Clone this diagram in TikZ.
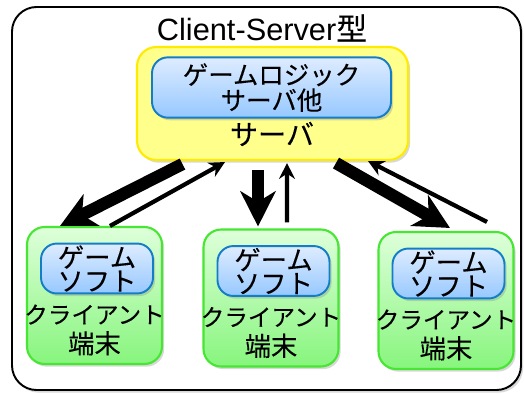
\documentclass[tikz,border=0pt]{standalone}
\usepackage{fontspec}
\setmainfont{Liberation Sans}
\newfontfamily\jp[FakeBold=0.15]{Noto Sans CJK JP}
\usetikzlibrary{arrows.meta, calc, shadows}

\definecolor{srvfill}{RGB}{255,255,140}
\definecolor{srvline}{RGB}{255,235,0}
\definecolor{sfttop}{RGB}{222,236,255}
\definecolor{sftbot}{RGB}{150,200,255}
\definecolor{sftline}{RGB}{20,125,200}
\definecolor{clitop}{RGB}{222,255,218}
\definecolor{clibot}{RGB}{135,245,125}
\definecolor{cliline}{RGB}{70,230,50}

\begin{document}
\begin{tikzpicture}[x=0.02cm, y=-0.02cm,
    shad/.style={drop shadow={shadow xshift=1.2pt, shadow yshift=-1.5pt, opacity=0.3}},
    srvbox/.style={rounded corners=11pt, draw=srvline, line width=1.2pt, fill=srvfill, shad},
    sftbox/.style={rounded corners=9pt, draw=sftline, line width=1.1pt, top color=sfttop, bottom color=sftbot, shad, align=center},
    clibox/.style={rounded corners=10pt, draw=cliline, line width=1.2pt, top color=clitop, bottom color=clibot, shad, minimum width=2.7cm, minimum height=2.74cm},
    big/.style={line width=7pt, -{Stealth[length=20pt, width=20pt, inset=6pt]}},
    small/.style={line width=2.4pt, -{Stealth[length=9pt, width=9pt, inset=3pt]}}]
    \useasboundingbox (0,0) rectangle (524,393);
    \draw [rounded corners=14pt, line width=1.1pt, fill=white, shad] (12,7) rectangle (521,390);
    \node (title) at (262,28) [font=\fontsize{17.5}{20}\selectfont] {Client-Server{\jp 型}};

    \node (srv) at (272.5,103.5) [srvbox, minimum width=5.42cm, minimum height=2.26cm] {};
    \node (logic) at (271.5,87.5) [sftbox, minimum width=4.78cm, minimum height=1.18cm,
        font=\fontsize{14.5}{14.5}\selectfont\jp] {ゲームロジック\\サーバ他};
    \node (srvname) at (272,134) [font=\fontsize{16}{16}\selectfont\jp] {サーバ};

    \foreach \x/\y/\n in {94.5/295.5/1, 271/298/2, 446/300.5/3} {
        \node (cl\n) at (\x,\y) [clibox] {};
        \node (sft\n) at (\x+2.5,\y-27) [sftbox, minimum width=2.24cm, minimum height=0.98cm,
            inner sep=1pt, font=\fontsize{15}{13.5}\selectfont\jp] {ゲーム\\ソフト};
        \node (lbl\n) at (\x,\y+34.5) [align=center, inner sep=0pt, font=\fontsize{13.4}{17}\selectfont\jp]
            {クライアント\\{\fontsize{15}{17}\selectfont 端末}};
    }

    \draw [big] ($(srv.south)+(-90,3)$) -- ($(cl1.north)+(-34.5,0)$);
    \draw [small] ($(cl1.north)+(15.5,0)$) -- ($(srv.south)+(-47.5,1)$);
    \draw [big] ($(srv.south)+(-14.5,9)$) -- ($(cl2.north)+(-13,-2)$);
    \draw [small] ($(cl2.north)+(16,-6)$) -- ($(srv.south)+(14.5,2)$);
    \draw [big] ($(srv.south)+(63.5,2)$) -- ($(cl3.north)+(4,-3)$);
    \draw [small] ($(cl3.north)+(41,-9)$) -- ($(srv.south)+(95.5,0)$);
\end{tikzpicture}
\end{document}
